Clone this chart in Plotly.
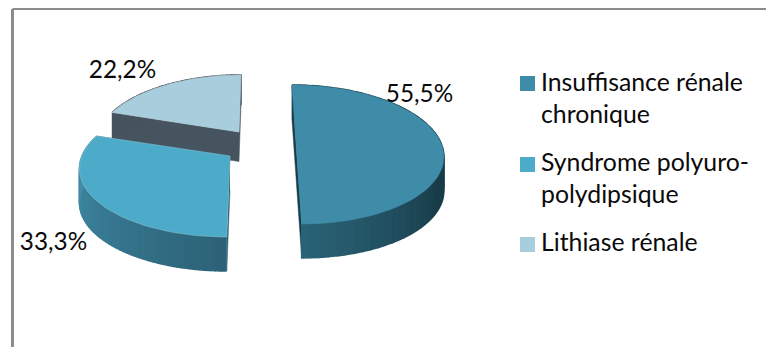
import math
import plotly.graph_objects as go

# Chart data
categories = ["Insuffisance rénale chronique", "Syndrome polyuro-polydipsique", "Lithiase rénale"]
values = [55.5, 33.3, 22.2]
legend_lines = [["Insuffisance rénale", "chronique"], ["Syndrome polyuro-", "polydipsique"], ["Lithiase rénale"]]
top_colors = ["#3F8CA8", "#4BABC8", "#A8CEDD"]
rim_colors = [("#2A6478", "#183C49"), ("#4596B2", "#2C6277"), ("#46545F", "#46545F")]

# Projection of each exploded wedge: centre, horizontal radius, depth factor, shear, thickness
PERSPECTIVE = 0.165
wedges = [
    dict(cx=296, cy=143, rx=145, k=67.6, shear=0.07, depth=34),
    dict(cx=230, cy=156, rx=148, k=67.6, shear=-0.04, depth=34),
    dict(cx=239, cy=132, rx=141, k=66.5, shear=-0.035, depth=29.5),
]
label_positions = [(419.5, 96), (53.5, 244), (122.5, 72)]
legend_rows = [(85, 117), (165, 197), (245,)]
legend_swatch_y = [83.5, 164.5, 244.5]
FONT = "Lato"
LABEL_SIZE = 24.3
LEGEND_SIZE = 24.8
INK = "#0A0A0A"


def project(w, theta):
    """Map an angle (clockwise from twelve o'clock) onto the tilted disc."""
    s, c = math.sin(theta), math.cos(theta)
    div = 1 + PERSPECTIVE * c
    dy = -c * w["k"] / div
    return w["cx"] + w["rx"] * s / div + w["shear"] * dy, w["cy"] + dy


def mix(a, b, t):
    ca = [int(a[i:i + 2], 16) for i in (1, 3, 5)]
    cb = [int(b[i:i + 2], 16) for i in (1, 3, 5)]
    return "#%02x%02x%02x" % tuple(round(x + (y - x) * t) for x, y in zip(ca, cb))


def polygon(xs, ys, color, line=None, width=1.0):
    return go.Scatter(x=xs, y=ys, mode="lines", fill="toself", fillcolor=color,
                      line=dict(color=line or color, width=width), hoverinfo="skip", showlegend=False)


def wall_shade(i, frac):
    """Wall gradient position for a strip at fraction frac along the wedge's sweep."""
    if i == 0:
        return min(1.0, (1 - frac) / 0.35)
    return 1 - frac


# Wedge sweeps come straight from the share of each value
total = sum(values)
sweeps = []
start = 0.0
for v in values:
    end = start + 2 * math.pi * v / total
    sweeps.append((start, end))
    start = end

fig = go.Figure()

# Paint back to front so nearer wedges overlap the farther ones
for i in (2, 1, 0):
    w = wedges[i]
    a0, a1 = sweeps[i]
    n = 60
    angles = [a0 + (a1 - a0) * j / n for j in range(n + 1)]
    rim = [project(w, a) for a in angles]
    apex = (w["cx"], w["cy"])
    d = w["depth"]

    # Flat cut faces
    for a in (a0, a1):
        p = project(w, a)
        fig.add_trace(polygon([apex[0], p[0], p[0], apex[0]],
                              [apex[1], p[1], p[1] + d, apex[1] + d], rim_colors[i][1], width=0.5))

    # Curved outer wall, shaded strip by strip
    for j in range(n):
        p, q = rim[j], rim[j + 1]
        color = mix(rim_colors[i][0], rim_colors[i][1], wall_shade(i, j / n))
        fig.add_trace(polygon([p[0], q[0], q[0], p[0]], [p[1], q[1], q[1] + d, p[1] + d], color, width=1.5))

    # Top face
    xs = [apex[0]] + [p[0] for p in rim] + [apex[0]]
    ys = [apex[1]] + [p[1] for p in rim] + [apex[1]]
    fig.add_trace(polygon(xs, ys, top_colors[i], mix(top_colors[i], "#C8D0D4", 0.5) if i else top_colors[i], 0.6))

# Percentage labels
fig.add_trace(go.Scatter(
    x=[p[0] for p in label_positions], y=[p[1] for p in label_positions],
    text=[f"{v:.1f}".replace(".", ",") + "%" for v in values],
    mode="text", textposition="middle center",
    textfont=dict(family=FONT, size=LABEL_SIZE, color=INK), hoverinfo="skip", showlegend=False))

# Legend swatches and wrapped entries
fig.add_trace(go.Scatter(
    x=[527.5] * 3, y=legend_swatch_y, mode="markers",
    marker=dict(symbol="square", size=15, color=top_colors, line=dict(width=0)),
    hoverinfo="skip", showlegend=False))
text_x, text_y, text_s = [], [], []
for rows, lines in zip(legend_rows, legend_lines):
    for y, line in zip(rows, lines):
        text_x.append(541)
        text_y.append(y)
        text_s.append(line)
fig.add_trace(go.Scatter(
    x=text_x, y=text_y, text=text_s, mode="text", textposition="middle right",
    textfont=dict(family=FONT, size=LEGEND_SIZE, color=INK), hoverinfo="skip", showlegend=False))

# Chart frame
fig.add_shape(type="line", xref="paper", yref="paper", x0=12.5 / 766, x1=1, y0=1 - 9 / 347, y1=1 - 9 / 347,
              line=dict(color="#8C8C8C", width=2))
fig.add_shape(type="line", xref="paper", yref="paper", x0=12.5 / 766, x1=12.5 / 766, y0=0, y1=1 - 9 / 347,
              line=dict(color="#8C8C8C", width=3))

fig.update_layout(
    width=766, height=347, autosize=False,
    margin=dict(l=0, r=0, t=0, b=0),
    paper_bgcolor="white", plot_bgcolor="white",
    showlegend=False,
    xaxis=dict(range=[0, 766], visible=False, fixedrange=True),
    yaxis=dict(range=[347, 0], visible=False, fixedrange=True),
)

fig.write_html("out.html", config={"displayModeBar": False})
